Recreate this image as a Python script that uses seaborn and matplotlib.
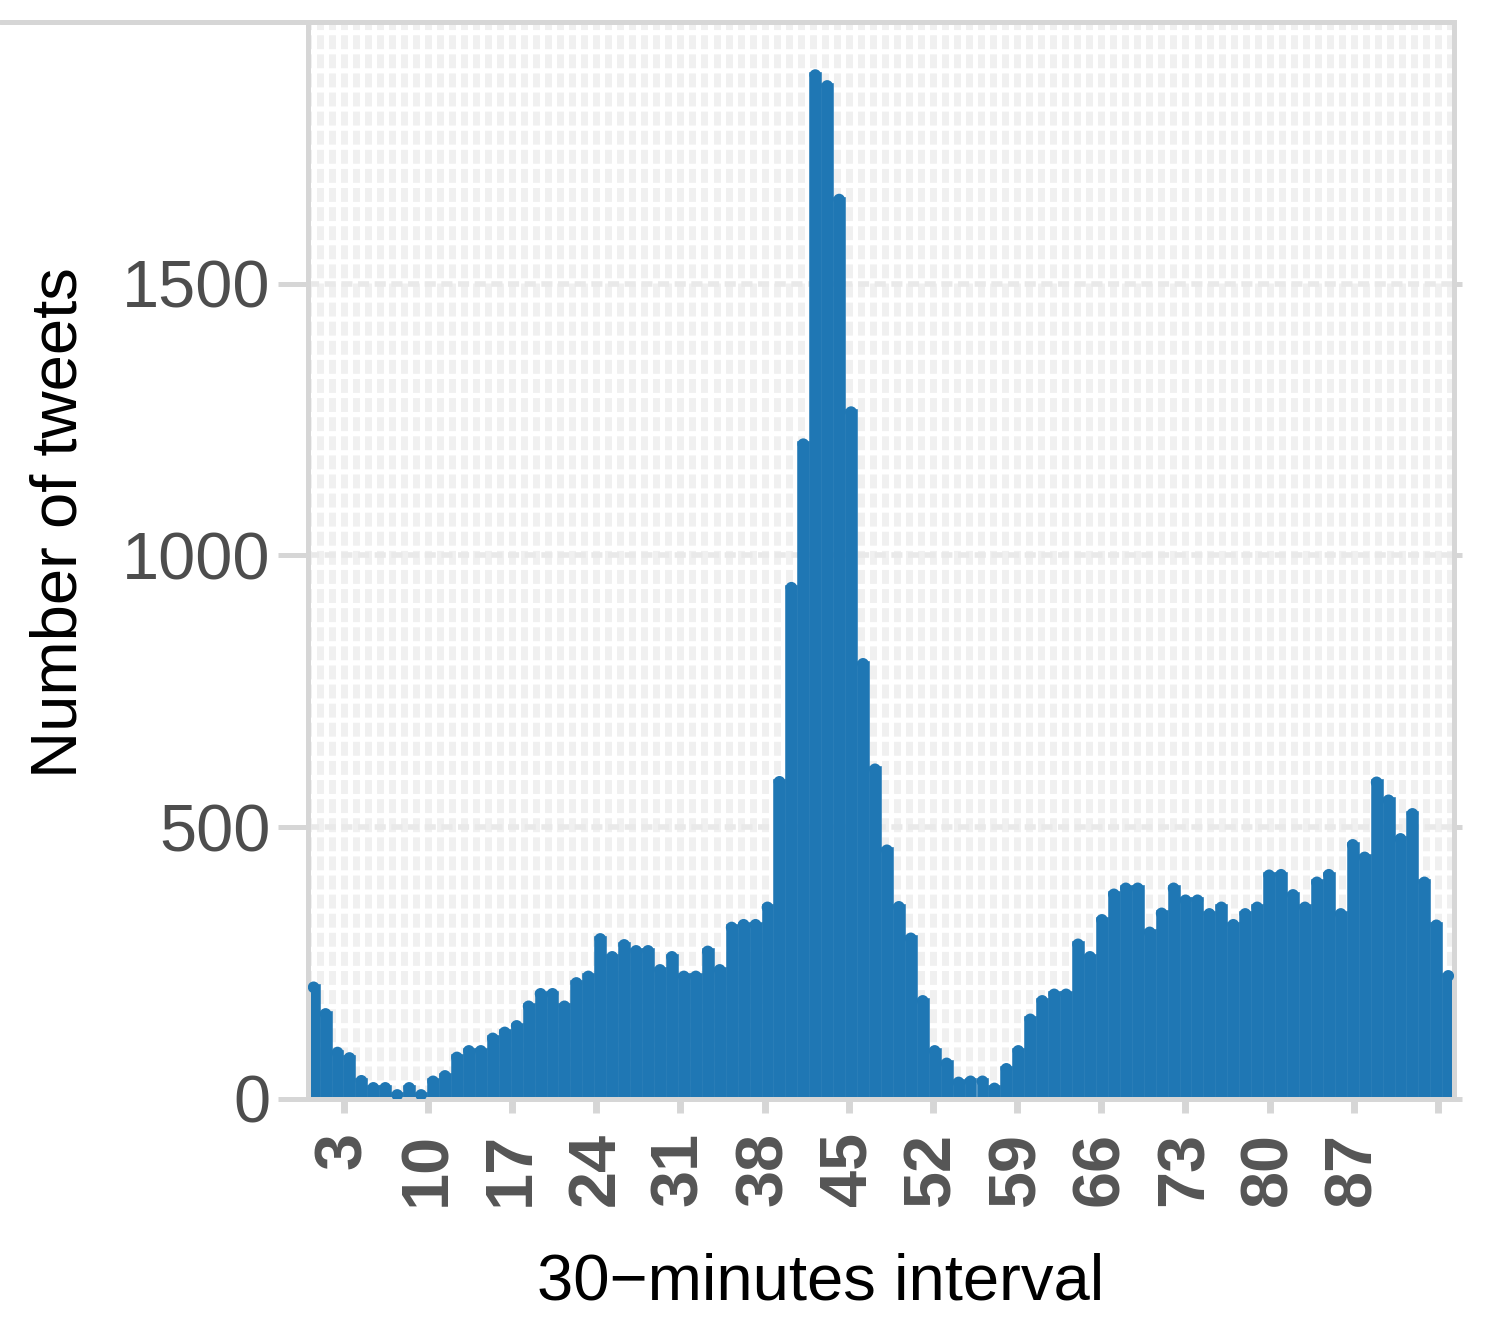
import numpy as np
import pandas as pd
import seaborn as sns
import matplotlib.pyplot as plt
from matplotlib.lines import Line2D
from matplotlib.transforms import offset_copy

# tweets per 30-minute interval
interval = list(range(96))
tweets = [211, 162, 91, 81, 39, 26, 26, 13, 26, 13,
          38, 48, 82, 94, 94, 117, 128, 140, 176, 199,
          199, 176, 219, 231, 300, 267, 289, 278, 278, 243,
          267, 231, 231, 277, 243, 321, 326, 326, 358, 589,
          946, 1210, 1889, 1869, 1660, 1269, 806, 612, 463, 359,
          301, 186, 94, 71, 36, 38, 38, 25, 61, 94,
          152, 186, 198, 198, 290, 267, 335, 382, 393, 393,
          312, 347, 393, 371, 371, 346, 358, 326, 346, 358,
          417, 418, 381, 358, 404, 418, 346, 473, 450, 588,
          555, 484, 530, 404, 325, 232]
x_ticks = [3, 10, 17, 24, 31, 38, 45, 52, 59, 66, 73, 80, 87, 94]
x_ticklabels = ['3', '10', '17', '24', '31', '38', '45', '52', '59',
                '66', '73', '80', '87', '']
y_ticks = [0, 500, 1000, 1500]

x_max = 95.35
y_max = 1981
blue = '#1f77b4'

sns.set_theme(style='white')
plt.rcParams['font.family'] = ['Liberation Sans', 'DejaVu Sans']

df = pd.DataFrame({'interval': interval, 'tweets': tweets})
bin_w = x_max / len(interval)
df['pos'] = (df['interval'] + 0.5) * bin_w

fig = plt.figure(figsize=(15, 13.36), dpi=100)
ax = fig.add_axes([0.2051, 0.1774, 0.7644, 0.8061])

sns.histplot(data=df, x='pos', weights='tweets', bins=len(interval),
             binrange=(0, x_max), color=blue, alpha=1,
             edgecolor=blue, linewidth=0.4, ax=ax)

# rounded caps on the bar tops
sns.scatterplot(data=df, x='pos', y='tweets', color=blue, s=70,
                edgecolor='none', linewidth=0, ax=ax, zorder=3, clip_on=True)
caps = ax.collections[-1]
caps.set_offset_transform(offset_copy(ax.transData, fig=fig, y=-3, units='dots'))

ax.set_xlim(0, x_max)
ax.set_ylim(0, y_max)

# ticks
ax.set_xticks(x_ticks)
ax.set_xticklabels(x_ticklabels, fontweight='bold')
ax.set_xticks(np.arange(0, 96), minor=True)
ax.set_yticks(y_ticks)
ax.set_yticklabels([str(v) for v in y_ticks])

ax.tick_params(axis='x', which='major', direction='out', length=10, width=5,
               color='#d6d6d6', labelsize=48, labelcolor='#555555',
               labelrotation=90, pad=14, bottom=True)
ax.tick_params(axis='x', which='minor', length=0)
ax.tick_params(axis='y', which='major', direction='out', length=21.6, width=3.6,
               color='#d6d6d6', labelsize=48, labelcolor='#4d4d4d', pad=5,
               left=True, right=True)
for t in ax.yaxis.get_major_ticks():
    t.tick2line.set_markersize(6)

# textured grid
ax.set_axisbelow(True)
ax.grid(True, which='both', axis='x', color='#f0f0f0', linewidth=5,
        linestyle=(0, (2, 0.75)))
ax.grid(True, which='major', axis='y', color='#e9e9e9', linewidth=4,
        linestyle=(0, (2, 1)))

for s in ax.spines.values():
    s.set_visible(True)
    s.set_color('#d6d6d6')
    s.set_linewidth(3.6)

ax.set_xlabel('30\u2212minutes interval', fontsize=47, color='black')
ax.set_ylabel('Number of tweets', fontsize=47, color='black')
ax.xaxis.set_label_coords(0.4477, -0.143)
ax.yaxis.set_label_coords(-0.190, 0.5357)

fig.add_artist(Line2D([0, 0.2051], [1 - 21.5 / 1336] * 2, transform=fig.transFigure,
                      color='#d6d6d6', lw=3.6))

fig.savefig('out.png', dpi=100, facecolor='white')
